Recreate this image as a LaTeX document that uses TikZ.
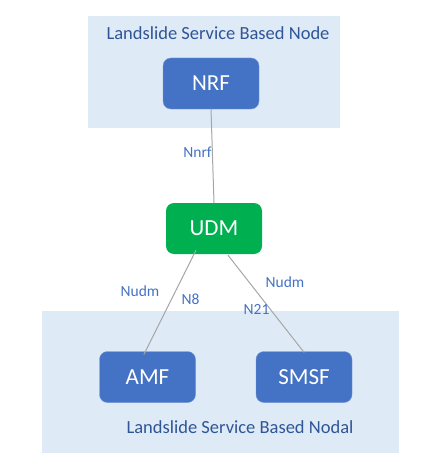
\documentclass[tikz,border=0pt]{standalone}
\usepackage{fontspec}
\setmainfont{Carlito}
\definecolor{zone}{HTML}{DEEAF6}
\definecolor{nfblue}{HTML}{4472C4}
\definecolor{nfgreen}{HTML}{00B050}
\definecolor{titleblue}{HTML}{2F5597}
\definecolor{wire}{HTML}{A6A6A6}
\begin{document}
\begin{tikzpicture}[x=1pt,y=-1pt, line join=round, line cap=round,
	nf/.style={rounded corners=8pt, minimum width=96pt, minimum height=51pt, text=white,
		font=\fontsize{23}{26}\selectfont, inner sep=0pt},
	zonetitle/.style={text=titleblue, font=\fontsize{18.5}{21}\selectfont, inner sep=0pt},
	iflabel/.style={text=nfblue, font=\fontsize{15.5}{18}\selectfont, inner sep=0pt},
	wire/.style={draw=wire, line width=1pt}]
	\useasboundingbox (0,0) rectangle (426,460);
	% zones
	\fill[zone] (88,16) rectangle (340,128);
	\fill[zone] (42,311) rectangle (399,453);
	\node[zonetitle] (toptitle) at (218,33) {Landslide Service Based Node};
	\node[zonetitle] (bottitle) at (240,427) {Landslide Service Based Nodal};
	% network functions
	\node[nf, fill=nfblue, draw=nfblue!75!white] (nrf) at (211,83.5) {NRF};
	\node[nf, fill=nfgreen] (udm) at (214,228.5) {UDM};
	\node[nf, fill=nfblue, draw=nfblue!75!white] (amf) at (147.5,377) {AMF};
	\node[nf, fill=nfblue, draw=nfblue!75!white] (smsf) at (304,377) {SMSF};
	% interfaces
	\draw[wire] (nrf.south) -- (udm.north);
	\draw[wire] ([xshift=-18pt,yshift=4pt]udm.south) -- ([xshift=-3.5pt,yshift=-3pt]amf.north);
	\draw[wire] ([xshift=14pt,yshift=-1pt]udm.south) -- ([yshift=-1pt]smsf.north);
	\node[iflabel] (nnrf) at (197.5,152) {Nnrf};
	\node[iflabel] (nudml) at (140,291) {Nudm};
	\node[iflabel] (neight) at (190.5,299) {N8};
	\node[iflabel] (nudmr) at (285,282) {Nudm};
	\node[iflabel] (ntwone) at (256.5,309) {N21};
\end{tikzpicture}
\end{document}
